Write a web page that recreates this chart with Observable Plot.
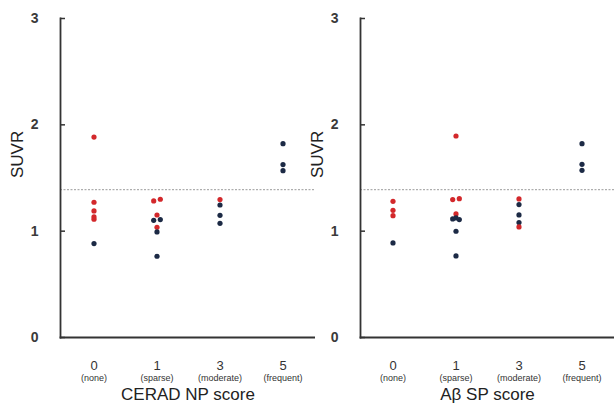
<!DOCTYPE html>
<html>
<head>
<meta charset="utf-8">
<script src="https://cdn.jsdelivr.net/npm/d3@7"></script>
<script src="https://cdn.jsdelivr.net/npm/@observablehq/plot@0.6"></script>
<style>
  html, body { margin: 0; padding: 0; background: #fff; }
  #wrap { display: flex; flex-direction: row; width: 614px; height: 411px; }
  svg { display: block; overflow: visible; }
</style>
</head>
<body>
<div id="wrap"></div>
<script>
// ---- data ----
const categories = ["0", "1", "3", "5"];
const categoryNotes = ["(none)", "(sparse)", "(moderate)", "(frequent)"];
const yTicks = [0, 1, 2, 3];
const threshold = 1.39;
const groups = ["A", "B"];              // A = red dots, B = dark navy dots
const groupColors = ["#d3282b", "#1c2a45"];

// Panel 1: CERAD NP score
const ceradTitle = "CERAD NP score";
const ceradScore = ["0","0","0","0","0","0", "1","1","1","1","1","1","1","1", "3","3","3","3", "5","5","5"];
const ceradSuvr  = [1.885,1.272,1.19,1.134,1.112,0.883, 1.284,1.30,1.152,1.037,1.102,1.109,0.993,0.764, 1.297,1.246,1.149,1.074, 1.823,1.626,1.569];
const ceradGroup = ["A","A","A","A","A","B", "A","A","A","A","B","B","B","B", "A","B","B","B", "B","B","B"];
const ceradSide  = [0,0,0,0,0,0, -1,1,0,0,-1,1,0,0, 0,0,0,0, 0,0,0];

// Panel 2: Aβ SP score
const spTitle = "Aβ SP score";
const spScore = ["0","0","0","0", "1","1","1","1","1","1","1","1","1", "3","3","3","3","3", "5","5","5"];
const spSuvr  = [1.281,1.196,1.146,0.889, 1.895,1.297,1.306,1.162,1.115,1.109,1.125,0.999,0.767, 1.303,1.25,1.153,1.081,1.04, 1.823,1.629,1.572];
const spGroup = ["A","A","A","B", "A","A","A","A","B","B","B","B","B", "A","B","B","B","A", "B","B","B"];
const spSide  = [0,0,0,0, 0,-1,1,0,-1,1,0,0,0, 0,0,0,0,0, 0,0,0];

function rows(score, suvr, group, side) {
  return score.map((s, i) => ({score: s, suvr: suvr[i], group: group[i], side: side[i]}));
}

function panel(data, title, width, marginLeft) {
  const font = "Liberation Sans, Arial, sans-serif";
  const dots = [-1, 0, 1].map(s =>
    Plot.dot(data.filter(d => d.side === s), {
      x: "score", y: "suvr", fill: "group", r: 2.6, dx: s * 3.3
    })
  );
  return Plot.plot({
    width, height: 411,
    marginLeft, marginRight: 0, marginTop: 18, marginBottom: 74,
    style: {fontFamily: font, background: "#fff", overflow: "visible"},
    x: {type: "band", domain: categories, padding: 0},
    y: {domain: [0, 3]},
    color: {domain: groups, range: groupColors},
    marks: [
      Plot.ruleY([threshold], {stroke: "#9a9a9a", strokeWidth: 1, strokeDasharray: "2,1.5"}),
      Plot.axisY({ticks: yTicks, tickFormat: d3.format("d"), tickSize: 0, tickPadding: 22, fontSize: 14, fontWeight: "bold", color: "#3a3a3a", label: null}),
      Plot.axisY({ticks: yTicks, tickSize: 5, dx: 5, text: null, stroke: "#333", strokeWidth: 1.5, label: null}),
      Plot.axisX({tickSize: 0, tickPadding: 23, fontSize: 13, color: "#333", label: null}),
      Plot.axisX({tickSize: 0, tickPadding: 37, fontSize: 9, color: "#333", label: null,
        tickFormat: d => categoryNotes[categories.indexOf(d)]}),
      Plot.frame({anchor: "left", stroke: "#333", strokeWidth: 1.8}),
      Plot.frame({anchor: "bottom", stroke: "#333", strokeWidth: 1.8}),
      Plot.text([title], {frameAnchor: "bottom", dy: 57, fontSize: 17, fill: "#222", lineAnchor: "middle"}),
      Plot.text(["SUVR"], {frameAnchor: "left", dx: -43, rotate: -90, fontSize: 17, fill: "#222", lineAnchor: "middle"}),
      ...dots
    ]
  });
}

const wrap = document.getElementById("wrap");
wrap.appendChild(panel(rows(ceradScore, ceradSuvr, ceradGroup, ceradSide), ceradTitle, 315, 60));
wrap.appendChild(panel(rows(spScore, spSuvr, spGroup, spSide), spTitle, 299, 45));
</script>
</body>
</html>
